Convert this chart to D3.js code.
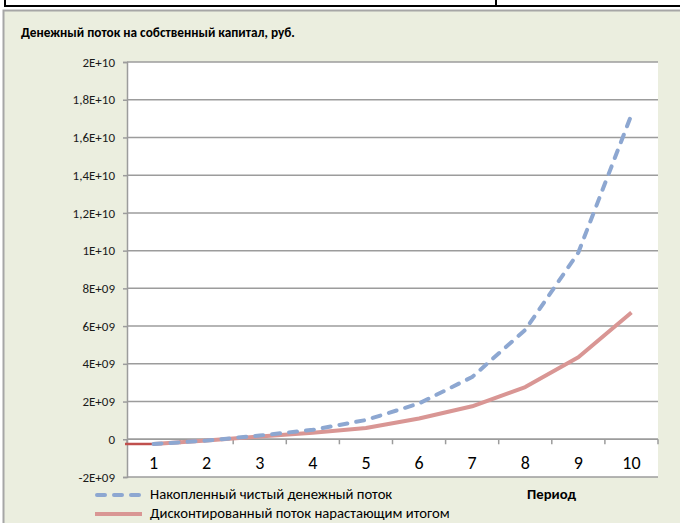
<!DOCTYPE html>
<html><head><meta charset="utf-8">
<script src="https://cdn.jsdelivr.net/npm/d3@7"></script>
<style>
html,body{margin:0;padding:0;background:#fff;}
svg{display:block;font-family:Carlito,Calibri,Lato,"Open Sans",sans-serif;}
</style></head>
<body>
<svg id="chart" width="680" height="523"></svg>
<script>
const title = "Денежный поток на собственный капитал, руб.";
const categories = ["1","2","3","4","5","6","7","8","9","10"];
const seriesNames = ["Накопленный чистый денежный поток", "Дисконтированный поток нарастающим итогом"];
const cumulativeFlow = [-0.25e9, -0.07e9, 0.2e9, 0.5e9, 1.02e9, 1.9e9, 3.3e9, 5.8e9, 9.9e9, 17.2e9];
const discountedFlow = [-0.25e9, -0.07e9, 0.15e9, 0.35e9, 0.6e9, 1.1e9, 1.75e9, 2.77e9, 4.35e9, 6.72e9];
const leadInValue = -0.25e9;
const yTicks = [-2e9, 0, 2e9, 4e9, 6e9, 8e9, 1e10, 1.2e10, 1.4e10, 1.6e10, 1.8e10, 2e10];
const yTickLabels = ["-2E+09","0","2E+09","4E+09","6E+09","8E+09","1E+10","1,2E+10","1,4E+10","1,6E+10","1,8E+10","2E+10"];
const xAxisTitle = "Период";

const svg = d3.select("#chart");
const W = 680, H = 523;
const FF = "Carlito,Calibri,Lato,sans-serif";

// top table fragment
svg.append("line").attr("x1",5).attr("x2",W).attr("y1",6).attr("y2",6).attr("stroke","#000").attr("stroke-width",2);
svg.append("line").attr("x1",5).attr("x2",5).attr("y1",0).attr("y2",7).attr("stroke","#000").attr("stroke-width",2);
svg.append("line").attr("x1",496).attr("x2",496).attr("y1",0).attr("y2",7).attr("stroke","#000").attr("stroke-width",2);

// chart area
svg.append("rect").attr("x",3.5).attr("y",10.5).attr("width",W+10).attr("height",H)
  .attr("fill","#EBEEDF").attr("stroke","#A6A6A6").attr("stroke-width",2);

svg.append("text").attr("x",21).attr("y",37).attr("font-size",13.3).attr("font-weight","bold")
  .attr("font-family",FF).attr("fill","#000").text(title);

const m = {left:127, right:658, top:62, bottom:477};
const x = d3.scaleBand().domain(categories).range([m.left, m.right]).padding(0);
const y = d3.scaleLinear().domain([-2e9, 2e10]).range([m.bottom, m.top]);

svg.append("rect").attr("x",m.left).attr("y",m.top).attr("width",m.right-m.left).attr("height",m.bottom-m.top).attr("fill","#fff");

// gridlines
svg.append("g").selectAll("line").data(yTicks).join("line")
  .attr("x1",m.left).attr("x2",m.right).attr("y1",d=>y(d)).attr("y2",d=>y(d))
  .attr("stroke","#9C9C9C").attr("stroke-width",1.5);

// y axis
const yAxis = d3.axisLeft(y).tickValues(yTicks).tickSize(4).tickPadding(8)
  .tickFormat((d,i)=>yTickLabels[i]);
const gy = svg.append("g").attr("transform",`translate(${m.left},0)`).call(yAxis);
gy.select(".domain").attr("stroke","#9C9C9C").attr("stroke-width",1.5);
gy.selectAll(".tick line").attr("stroke","#9C9C9C").attr("stroke-width",1.5);
gy.selectAll(".tick text").attr("font-size",13).attr("fill","#1a1a1a").attr("font-family",FF);

// x axis at zero
const boundaries = categories.map(c=>x(c)).concat([m.right]);
const gx = svg.append("g");
gx.append("line").attr("x1",m.left).attr("x2",m.right).attr("y1",y(0)).attr("y2",y(0)).attr("stroke","#9C9C9C").attr("stroke-width",1.5);
gx.selectAll("line.tk").data(boundaries).join("line").attr("class","tk")
  .attr("x1",d=>d).attr("x2",d=>d).attr("y1",y(0)).attr("y2",y(0)+5).attr("stroke","#9C9C9C").attr("stroke-width",1.5);
gx.selectAll("text").data(categories).join("text")
  .attr("x",d=>x(d)+x.bandwidth()/2).attr("y",469).attr("text-anchor","middle")
  .attr("font-size",18).attr("font-family",FF).attr("fill","#000").text(d=>d);

// lines
const line = d3.line().x((d,i)=>x(categories[i])+x.bandwidth()/2).y(d=>y(d));
svg.append("path").datum([leadInValue, leadInValue])
  .attr("d", d3.line().x((d,i)=> i===0 ? m.left-2 : x(categories[0])+x.bandwidth()/2).y(d=>y(d)))
  .attr("fill","none").attr("stroke","#C0504D").attr("stroke-width",2.5);
svg.append("path").datum(discountedFlow).attr("d",line)
  .attr("fill","none").attr("stroke","#D99694").attr("stroke-width",4).attr("stroke-linejoin","round");
svg.append("path").datum(cumulativeFlow).attr("d",line)
  .attr("fill","none").attr("stroke","#8DA7D1").attr("stroke-width",4)
  .attr("stroke-dasharray","8,9").attr("stroke-linecap","round").attr("stroke-linejoin","round");

// legend
const lg = svg.append("g");
lg.append("line").attr("x1",97).attr("x2",140).attr("y1",495).attr("y2",495)
  .attr("stroke","#8DA7D1").attr("stroke-width",4).attr("stroke-dasharray","8,9").attr("stroke-linecap","round");
lg.append("line").attr("x1",95).attr("x2",142).attr("y1",514).attr("y2",514)
  .attr("stroke","#D99694").attr("stroke-width",4);
lg.append("text").attr("x",150).attr("y",499).attr("font-size",14.7).attr("font-family",FF).attr("fill","#000").text(seriesNames[0]);
lg.append("text").attr("x",150).attr("y",518).attr("font-size",14.7).attr("font-family",FF).attr("fill","#000").text(seriesNames[1]);
svg.append("text").attr("x",527).attr("y",499).attr("font-size",14.7).attr("font-weight","bold").attr("font-family",FF).attr("fill","#000").text(xAxisTitle);
</script>
</body></html>
